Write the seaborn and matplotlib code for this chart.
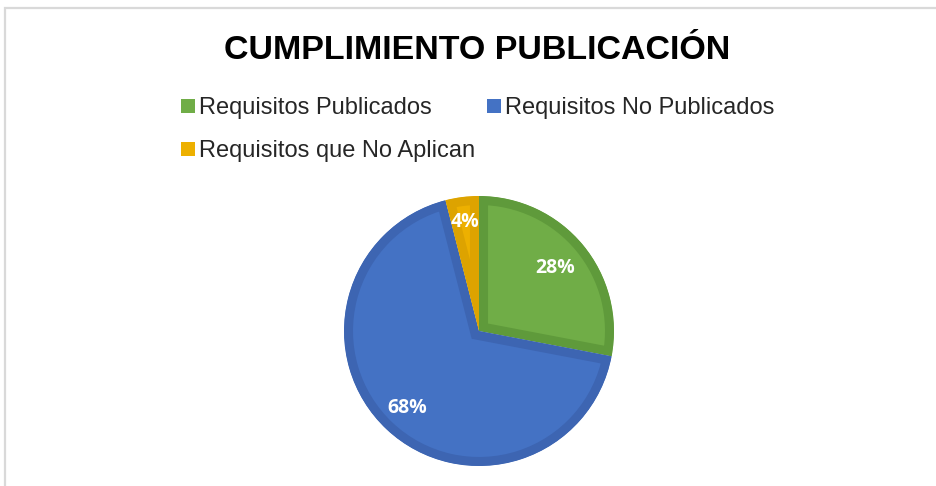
import matplotlib
matplotlib.use("Agg")
import matplotlib.pyplot as plt
from matplotlib.patches import Patch, Rectangle
import seaborn as sns

# ---- data ----
categories = ["Requisitos Publicados", "Requisitos No Publicados", "Requisitos que No Aplican"]
values = [28, 68, 4]
title = "CUMPLIMIENTO PUBLICACIÓN"

face_colors = ["#70AD47", "#4472C4", "#EDB000"]
edge_colors = ["#5F9A3B", "#3D65B2", "#DDA300"]
label_dist = [0.73, 0.78, 0.815]

sns.set_theme(style="white")
plt.rcParams['font.family'] = ['Liberation Sans', 'DejaVu Sans']

W, H = 936, 486
fig = plt.figure(figsize=(W / 100, H / 100), dpi=100)
fig.patch.set_facecolor("white")

# outer chart frame (light gray)
frame = Rectangle((5 / W, -0.1), 1.2, (H - 8) / H + 0.1, transform=fig.transFigure,
                  fill=False, edgecolor="#D9D9D9", linewidth=1.6)
fig.patches.append(frame)

# pie axes
cx, cy, r = 479, 331, 135
ax = fig.add_axes([(cx - r) / W, (H - cy - r) / H, 2 * r / W, 2 * r / H])
base = 0.75
wedges, texts, autotexts = ax.pie(
    values, colors=face_colors, startangle=90, counterclock=False,
    autopct=lambda p: f"{p:.0f}%", pctdistance=base, radius=1,
    wedgeprops=dict(linewidth=13),
    textprops=dict(color="white", fontsize=14, fontweight="bold", family=["Open Sans", "DejaVu Sans"]),
)
for w, ec in zip(wedges, edge_colors):
    w.set_edgecolor(ec)
    w.set_clip_on(True)
    w.set_clip_path(w)
for t, d in zip(autotexts, label_dist):
    x, y = t.get_position()
    t.set_position((x * d / base, y * d / base))
ax.set_xlim(-1, 1)
ax.set_ylim(-1, 1)
ax.set_aspect("equal")
ax.axis("off")

# title
fig.text(477.5 / W, 1 - 59 / H, title, ha="center", va="baseline",
         fontsize=24.5, fontweight="bold", color="black")

# legend (column-major order so layout matches)
handles = [Patch(facecolor=c, edgecolor="none") for c in face_colors]
order = [0, 2, 1]
leg = fig.legend([handles[i] for i in order], [categories[i] for i in order],
                 ncol=2, loc="upper left", bbox_to_anchor=(181 / W, 1 - 97 / H),
                 frameon=False, fontsize=17, handlelength=0.6, handleheight=0.55,
                 handletextpad=0.17, columnspacing=0.5, labelspacing=0.9,
                 borderpad=0, borderaxespad=0)

fig.savefig("out.png", dpi=100, facecolor="white")
